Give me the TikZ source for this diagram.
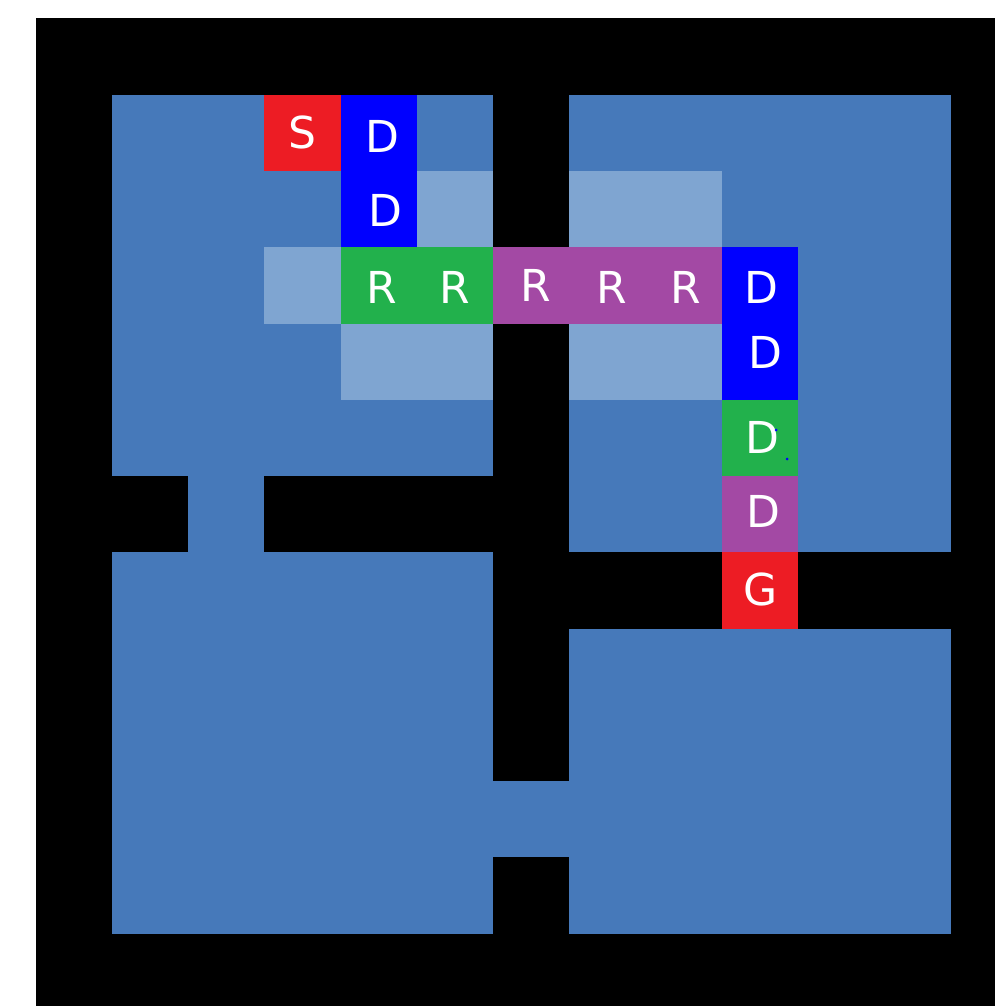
\documentclass[tikz,border=0pt]{standalone}
\usepackage{fontspec}
\setmainfont{DejaVu Sans}
\definecolor{room}{HTML}{4679BA}
\definecolor{lite}{HTML}{7FA5D1}
\definecolor{pred}{HTML}{ED1C24}
\definecolor{pgreen}{HTML}{22B14C}
\definecolor{ppurple}{HTML}{A349A4}
\definecolor{pblue}{HTML}{0000FF}
\begin{document}
\begin{tikzpicture}[x=0.75pt,y=-0.75pt,
  lab/.style={text=white,font=\fontsize{33}{33}\selectfont,inner sep=0pt,anchor=center}]
\useasboundingbox (0,0) rectangle (995,1006);
\fill[black] (35.5,18.5) rectangle (995,1006);
\begin{scope}[shift={(26.625pt,-13.875pt)},x=57.1875pt,y=-57.1875pt]
  % rooms
  \fill[room] (1,1) rectangle (6,6);
  \fill[room] (7,1) rectangle (12,7);
  \fill[room] (1,7) rectangle (6,12);
  \fill[room] (7,8) rectangle (12,12);
  % doors
  \fill[room] (2,6) rectangle (3,7);
  \fill[room] (6,3) rectangle (7,4);
  \fill[room] (6,10) rectangle (7,11);
  \fill[room] (9,7) rectangle (10,8);
  % light cells
  \fill[lite] (5,2) rectangle (6,3);
  \fill[lite] (7,2) rectangle (9,3);
  \fill[lite] (3,3) rectangle (4,4);
  \fill[lite] (4,4) rectangle (6,5);
  \fill[lite] (7,4) rectangle (9,5);
  % path
  \fill[pred] (3,1) rectangle (4,2);
  \fill[pblue] (4,1) rectangle (5,3);
  \fill[pgreen] (4,3) rectangle (6,4);
  \fill[ppurple] (6,3) rectangle (9,4);
  \fill[pblue] (9,3) rectangle (10,5);
  \fill[pgreen] (9,5) rectangle (10,6);
  \fill[ppurple] (9,6) rectangle (10,7);
  \fill[pred] (9,7) rectangle (10,8);
  % labels
  \node[lab] (s)  at (3.5,1.5) {S};
  \node[lab,xshift=3pt,yshift=-3pt] (d1) at (4.5,1.5) {D};
  \node[lab,xshift=5pt,yshift=-0.75pt] (d2) at (4.5,2.5) {D};
  \node[lab,xshift=2.25pt,yshift=-1.5pt] (r1) at (4.5,3.5) {R};
  \node[lab,yshift=-1.5pt] (r2) at (5.5,3.5) {R};
  \node[lab,xshift=3.75pt] (r3) at (6.5,3.5) {R};
  \node[lab,xshift=3pt,yshift=-1.5pt] (r4) at (7.5,3.5) {R};
  \node[lab,xshift=1.5pt,yshift=-1.5pt] (r5) at (8.5,3.5) {R};
  \node[lab,xshift=1.5pt,yshift=-1.5pt] (d3) at (9.5,3.5) {D};
  \node[lab,xshift=4.5pt,yshift=6.75pt] (d4) at (9.5,4.5) {D};
  \node[lab,xshift=2.25pt] (d5) at (9.5,5.5) {D};
  \node[lab,xshift=3pt,yshift=2.25pt] (d6) at (9.5,6.5) {D};
  \node[lab,xshift=0.75pt,yshift=0.75pt] (g) at (9.5,7.5) {G};
\end{scope}
\fill[pblue] (776,430) circle (1.5);
\fill[pblue] (787,459) circle (1.5);
\end{tikzpicture}
\end{document}
